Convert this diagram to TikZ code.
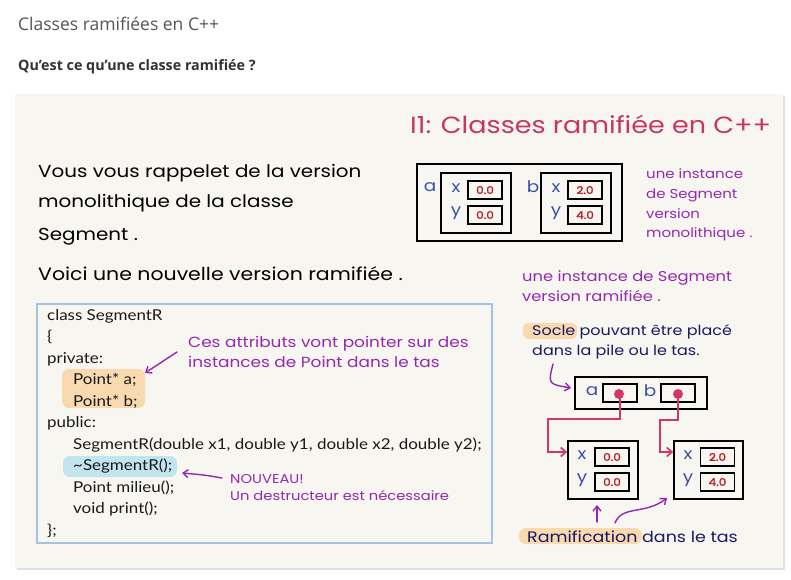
\documentclass[tikz,border=0pt]{standalone}
\usepackage{fontspec}
\setmainfont{Open Sans}
\newfontfamily\hand[FakeStretch=1.15]{Poppins}
\newfontfamily\handb[FakeStretch=1.15,FakeBold=1.6]{Poppins}
\newfontfamily\codef[FakeStretch=1.13]{Lato}
\usetikzlibrary{arrows.meta,calc}
\definecolor{titlec}{RGB}{200,55,100}
\definecolor{purp}{RGB}{150,40,175}
\definecolor{navy}{RGB}{25,25,100}
\definecolor{lblue}{RGB}{60,80,170}
\definecolor{valred}{RGB}{190,20,30}
\definecolor{pinkc}{RGB}{210,55,105}
\definecolor{codeborder}{RGB}{165,195,225}
\definecolor{panelbg}{RGB}{248,246,241}
\definecolor{hlorange}{RGB}{248,217,176}
\definecolor{hlblue}{RGB}{194,228,239}
\definecolor{pagegray}{RGB}{85,85,85}
\definecolor{subgray}{RGB}{50,50,50}
\tikzset{
  bx/.style={draw=black, line width=1.8pt, inner sep=0pt, fill=none},
  vbox/.style={draw=black, line width=1.6pt, inner sep=0pt, minimum width=34pt, minimum height=18pt, font=\handb\fontsize{10.5}{10.5}\selectfont, text=valred},
  lbl/.style={font=\hand\fontsize{16}{16}\selectfont, text=lblue, inner sep=0pt},
  handtxt/.style={anchor=base west, inner sep=0pt, font=\hand\fontsize{17.3}{17.3}\selectfont, text=black},
  purptxt/.style={anchor=base west, inner sep=0pt, font=\hand\fontsize{13}{13}\selectfont, text=purp},
  navytxt/.style={anchor=base west, inner sep=0pt, font=\hand\fontsize{13.9}{13.9}\selectfont, text=navy},
  codetxt/.style={anchor=base west, inner sep=0pt, font=\codef\fontsize{15}{15}\selectfont, text=black!90},
  parr/.style={draw=purp, line width=1.4pt, line cap=round, -{Straight Barb[length=5pt,width=8pt]}},
  conn/.style={draw=pinkc, line width=1.7pt, -{Straight Barb[length=5pt,width=9pt]}},
  hl/.style={rounded corners=7pt, draw=none},
  dot/.style={circle, fill=pinkc, inner sep=0pt, minimum size=10pt}
}
\begin{document}
\begin{tikzpicture}[x=1pt,y=-1pt]
\useasboundingbox (0,0) rectangle (791,579);
\fill[white] (0,0) rectangle (791,579);
% page heading
\node[anchor=base west, inner sep=0pt, font=\fontsize{17.5}{17.5}\selectfont, text=pagegray] (pagetitle) at (18,30) {Classes ramifiées en C++};
\node[anchor=base west, inner sep=0pt, font=\fontsize{14.3}{14.3}\selectfont\bfseries, text=subgray] (subtitle) at (18,70) {Qu’est ce qu’une classe ramifiée ?};
% panel
\fill[black!12] (17,96) rectangle (785,570);
\fill[panelbg] (15,94) rectangle (783,568);
% title
\node[anchor=base west, inner sep=0pt, font=\hand\fontsize{23.5}{23.5}\selectfont, text=titlec] (ttl) at (410,133) {I1: Classes ramifiée en C++};
% left text
\node[handtxt] (t1) at (38,177) {Vous vous rappelet de la version};
\node[handtxt] (t2) at (38,207) {monolithique de la classe};
\node[handtxt] (t3) at (38,240) {Segment .};
\node[handtxt, font=\hand\fontsize{17.8}{17.8}\selectfont] (t4) at (38,280) {Voici une nouvelle version ramifiée .};
% monolithic instance
\node[bx, minimum width=205pt, minimum height=77pt] (mono) at (519.5,202.5) {};
\node[bx, minimum width=70pt, minimum height=60pt] (ma) at (476,203) {};
\node[bx, minimum width=70pt, minimum height=60pt] (mb) at (576,203) {};
\node[vbox] (max) at (485,190) {0.0};
\node[vbox] (may) at (485,215) {0.0};
\node[vbox] (mbx) at (585,190) {2.0};
\node[vbox] (mby) at (585,215) {4.0};
\node[lbl] (mal) at (430,187) {a};
\node[lbl] (mbl) at (533,187) {b};
\node[lbl] (maxl) at (456,188) {x};
\node[lbl] (mayl) at (456,213) {y};
\node[lbl] (mbxl) at (556,188) {x};
\node[lbl] (mbyl) at (556,213) {y};
\node[purptxt] (n1) at (646,178) {une instance};
\node[purptxt] (n2) at (646,198) {de Segment};
\node[purptxt] (n3) at (646,218) {version};
\node[purptxt] (n4) at (646,237) {monolithique .};
% code box
\node[draw=codeborder, line width=1.8pt, minimum width=455pt, minimum height=239pt, inner sep=0pt] (code) at (264.5,423.5) {};
\fill[hlorange, hl] (62,369) rectangle (145,408);
\fill[hlblue, hl] (63,456) rectangle (177,477);
\node[codetxt] (c1) at (47,320) {class SegmentR};
\node[codetxt] (c2) at (47,341.5) {\{};
\node[codetxt] (c3) at (47,363) {private:};
\node[codetxt] (c4) at (73,384.5) {Point* a;};
\node[codetxt] (c5) at (73,406) {Point* b;};
\node[codetxt] (c6) at (47,427.5) {public:};
\node[codetxt] (c7) at (73,449) {SegmentR(double x1, double y1, double x2, double y2);};
\node[codetxt] (c8) at (73,470.5) {\char`\~SegmentR();};
\node[codetxt] (c9) at (73,492) {Point milieu();};
\node[codetxt] (c10) at (73,513.5) {void print();};
\node[codetxt] (c11) at (47,535) {\};};
% annotations in code
\node[purptxt, font=\hand\fontsize{14.7}{14.7}\selectfont] (a1) at (188,347) {Ces attributs vont pointer sur des};
\node[purptxt, font=\hand\fontsize{14.7}{14.7}\selectfont] (a2) at (188,367) {instances de Point dans le tas};
\coordinate (a1s) at (177,352);
\coordinate (a1e) at (145,373);
\draw[parr] (a1s) -- (a1e);
\node[purptxt, font=\hand\fontsize{12.8}{12.8}\selectfont] (nv1) at (230,483) {NOUVEAU!};
\node[purptxt, font=\hand\fontsize{12.8}{12.8}\selectfont] (nv2) at (230,500) {Un destructeur est nécessaire};
\coordinate (nvs) at (222,478);
\coordinate (nve) at (182,473);
\draw[parr] (nvs) .. controls (205,475) .. (nve);
% right side: ramified instance
\node[purptxt, font=\hand\fontsize{14.2}{14.2}\selectfont] (r1) at (522,281) {une instance de Segment};
\node[purptxt, font=\hand\fontsize{14.2}{14.2}\selectfont] (r2) at (522,301) {version ramifiée .};
\fill[hlorange, hl, rounded corners=6pt] (523,323) rectangle (577,339);
\node[navytxt] (s1) at (532,335) {Socle pouvant être placé};
\node[navytxt] (s2) at (532,355) {dans la pile ou le tas.};
\coordinate (sas) at (553,364);
\coordinate (sae) at (571,388);
\draw[parr] (sas) .. controls (548,384) .. (sae);
% socle box
\node[bx, minimum width=132pt, minimum height=32pt] (socle) at (641,393) {};
\node[vbox] (sa) at (620,393) {};
\node[vbox] (sb) at (678,393) {};
\node[lbl] (sal) at (592,391) {a};
\node[lbl] (sbl) at (650,391) {b};
% heap boxes
\node[bx, minimum width=70pt, minimum height=58pt] (h1) at (603,470) {};
\node[bx, minimum width=69pt, minimum height=58pt] (h2) at (708.5,470) {};
\node[vbox] (h1x) at (612,457) {0.0};
\node[vbox] (h1y) at (612,482) {0.0};
\node[vbox] (h2x) at (717.5,457) {2.0};
\node[vbox] (h2y) at (717.5,482) {4.0};
\node[lbl] (h1xl) at (582,455) {x};
\node[lbl] (h1yl) at (582,480) {y};
\node[lbl] (h2xl) at (688,455) {x};
\node[lbl] (h2yl) at (688,480) {y};
% connectors
\coordinate (ka) at (548,419);
\coordinate (kb) at (660,420);
\draw[conn] (sa.center) |- (ka) |- ($(h1.west)+(0,-18)$);
\draw[conn] (sb.center) |- (kb) |- ($(h2.west)+(0,-18)$);
\node[dot] (da) at (619,394) {};
\node[dot] (db) at (678,394) {};
% bottom label
\fill[hlorange, hl] (519,528) rectangle (642,544);
\node[navytxt, font=\hand\fontsize{15.2}{15.2}\selectfont] (rm) at (527,542) {Ramification dans le tas};
\coordinate (u1s) at (597,522);
\coordinate (u1e) at (597,505);
\draw[parr] (u1s) -- (u1e);
\coordinate (u2s) at (615,523);
\coordinate (u2e) at (667,498);
\draw[parr] (u2s) .. controls (622,505) and (645,515) .. (u2e);
\end{tikzpicture}
\end{document}
